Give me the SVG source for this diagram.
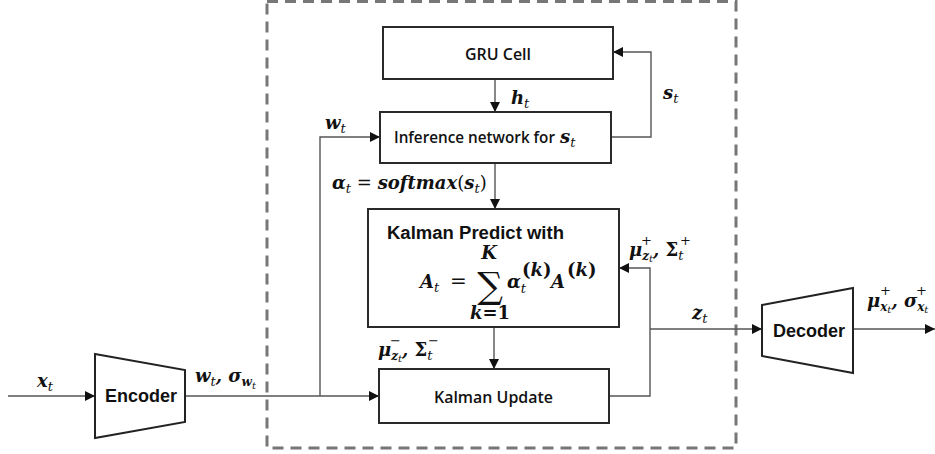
<svg xmlns="http://www.w3.org/2000/svg" width="935" height="454" viewBox="0 0 935 454">
<defs>
<marker id="ah" viewBox="0 0 10 10" refX="10" refY="5" markerWidth="10" markerHeight="10" markerUnits="userSpaceOnUse" orient="auto">
<path d="M0,0 L10,5 L0,10 z" fill="#111"/>
</marker>
<style>
.box{fill:#fff;stroke:#2a2a2a;stroke-width:2}
.trap{fill:#fff;stroke:#222;stroke-width:2}
.con{fill:none;stroke:#555;stroke-width:1.4}
.arr{marker-end:url(#ah)}
.cal{font-family:"Open Sans","Noto Sans",sans-serif;font-weight:600;font-size:15.5px;fill:#111}
.ar{font-family:"Liberation Sans",Arial,sans-serif;font-weight:bold;font-size:18px;fill:#111}
.m{font-family:"DejaVu Serif","Liberation Serif",serif;font-style:italic;font-weight:bold;font-size:18px;fill:#111}
.s{font-weight:normal;font-size:13px}
.ss{font-weight:normal;font-size:10px}
.up{font-style:normal}
.sup{font-family:"DejaVu Serif",serif;font-size:13px;fill:#111}
</style>
</defs>
<rect width="935" height="454" fill="#fff"/>
<rect id="frame" x="267" y="1.5" width="469" height="446.5" fill="none" stroke="#777" stroke-width="3" stroke-dasharray="11,7"/>

<g id="connectors">
<line class="con arr" x1="8" y1="396" x2="95" y2="396"/>
<line class="con arr" x1="185" y1="396" x2="379" y2="396"/>
<polyline class="con arr" points="320,396 320,137 380,137"/>
<line class="con arr" x1="495" y1="79" x2="495" y2="112"/>
<polyline class="con arr" points="611,137 651,137 651,52 613,52"/>
<line class="con arr" x1="495" y1="163" x2="495" y2="209"/>
<line class="con arr" x1="494" y1="327" x2="494" y2="369"/>
<polyline class="con arr" points="609,396 650,396 650,268 619,268"/>
<line class="con arr" x1="650" y1="329" x2="762" y2="329"/>
<line class="con arr" x1="853" y1="329" x2="935" y2="329"/>
</g>

<g id="encoder">
<polygon class="trap" points="95,354 185,370 185,422 95,438"/>
<text class="ar" x="141" y="402" text-anchor="middle">Encoder</text>
</g>
<g id="decoder">
<polygon class="trap" points="762,305 853,288 853,373 762,356"/>
<text class="ar" x="809" y="337" text-anchor="middle">Decoder</text>
</g>
<g id="gru">
<rect class="box" x="383" y="27" width="230" height="52"/>
<text class="cal" x="465" y="60" textLength="66" lengthAdjust="spacingAndGlyphs">GRU Cell</text>
</g>
<g id="inference">
<rect class="box" x="380" y="112" width="231" height="51"/>
<text class="cal" x="394" y="143" textLength="161" lengthAdjust="spacingAndGlyphs">Inference network for</text>
<text class="m" x="560" y="143">s<tspan class="s" dy="4">t</tspan></text>
</g>
<g id="predict">
<rect class="box" x="368" y="209" width="251" height="118"/>
<text class="ar" x="387" y="239" font-size="17px" textLength="177" lengthAdjust="spacingAndGlyphs">Kalman Predict with</text>
<text class="m" x="420" y="288" font-size="20px">A<tspan class="s" font-size="14px" dy="4">t</tspan></text>
<text x="450" y="288" font-family="DejaVu Serif,serif" font-size="20px" fill="#111">=</text>
<text x="490" y="298" font-family="DejaVu Serif,serif" font-size="36px" text-anchor="middle" fill="#111">∑</text>
<text class="m" x="489" y="259" font-size="13px" text-anchor="middle">K</text>
<text class="m" x="490" y="319" font-size="13px" text-anchor="middle">k<tspan class="up">=1</tspan></text>
<text class="m" x="507" y="288" font-size="20px">α<tspan class="s" font-size="14px" dy="5">t</tspan></text>
<text class="m" x="522" y="276" font-size="12px"><tspan class="up">(</tspan>k<tspan class="up">)</tspan></text>
<text class="m" x="551" y="288" font-size="20px">A</text>
<text class="m" x="567" y="276" font-size="12px"><tspan class="up">(</tspan>k<tspan class="up">)</tspan></text>
</g>
<g id="update">
<rect class="box" x="379" y="369" width="230" height="54"/>
<text class="cal" x="434" y="403" textLength="119" lengthAdjust="spacingAndGlyphs">Kalman Update</text>
</g>

<g id="labels">
<text class="m" x="37" y="387">x<tspan class="s" dy="4">t</tspan></text>
<text class="m" x="195" y="382">w<tspan class="s" dy="4">t</tspan><tspan dy="-4">, σ</tspan><tspan font-size="12px" dy="4">w</tspan><tspan class="ss" dy="3">t</tspan></text>
<text class="m" x="325" y="129">w<tspan class="s" dy="4">t</tspan></text>
<text class="m" x="511" y="104">h<tspan class="s" dy="4">t</tspan></text>
<text class="m" x="663" y="99">s<tspan class="s" dy="4">t</tspan></text>
<text class="m" x="332" y="189">α<tspan class="s" dy="4">t</tspan><tspan class="up" dy="-4" font-weight="normal"> = </tspan><tspan>softmax</tspan><tspan class="up" font-weight="normal">(</tspan><tspan>s</tspan><tspan class="s" dy="4">t</tspan><tspan class="up" dy="-4" font-weight="normal">)</tspan></text>

<text class="m" x="378" y="356" font-size="17px">μ<tspan font-size="12px" dy="4">z</tspan><tspan class="ss" dy="2">t</tspan><tspan dy="-6">, </tspan><tspan class="up">Σ</tspan><tspan class="s" dy="4">t</tspan></text>
<text class="sup" x="390" y="345">−</text>
<text class="sup" x="428" y="345">−</text>

<text class="m" x="629" y="256" font-size="17px">μ<tspan font-size="12px" dy="4">z</tspan><tspan class="ss" dy="2">t</tspan><tspan dy="-6">, </tspan><tspan class="up">Σ</tspan><tspan class="s" dy="4">t</tspan></text>
<text class="sup" x="641" y="245">+</text>
<text class="sup" x="680" y="245">+</text>

<text class="m" x="692" y="319">z<tspan class="s" dy="4">t</tspan></text>

<text class="m" x="867" y="307" font-size="17px">μ<tspan font-size="12px" dy="4">x</tspan><tspan class="ss" dy="2">t</tspan><tspan dy="-6">, σ</tspan><tspan font-size="12px" dy="4">x</tspan><tspan class="ss" dy="2">t</tspan></text>
<text class="sup" x="880" y="295">+</text>
<text class="sup" x="916" y="295">+</text>
</g>
</svg>
